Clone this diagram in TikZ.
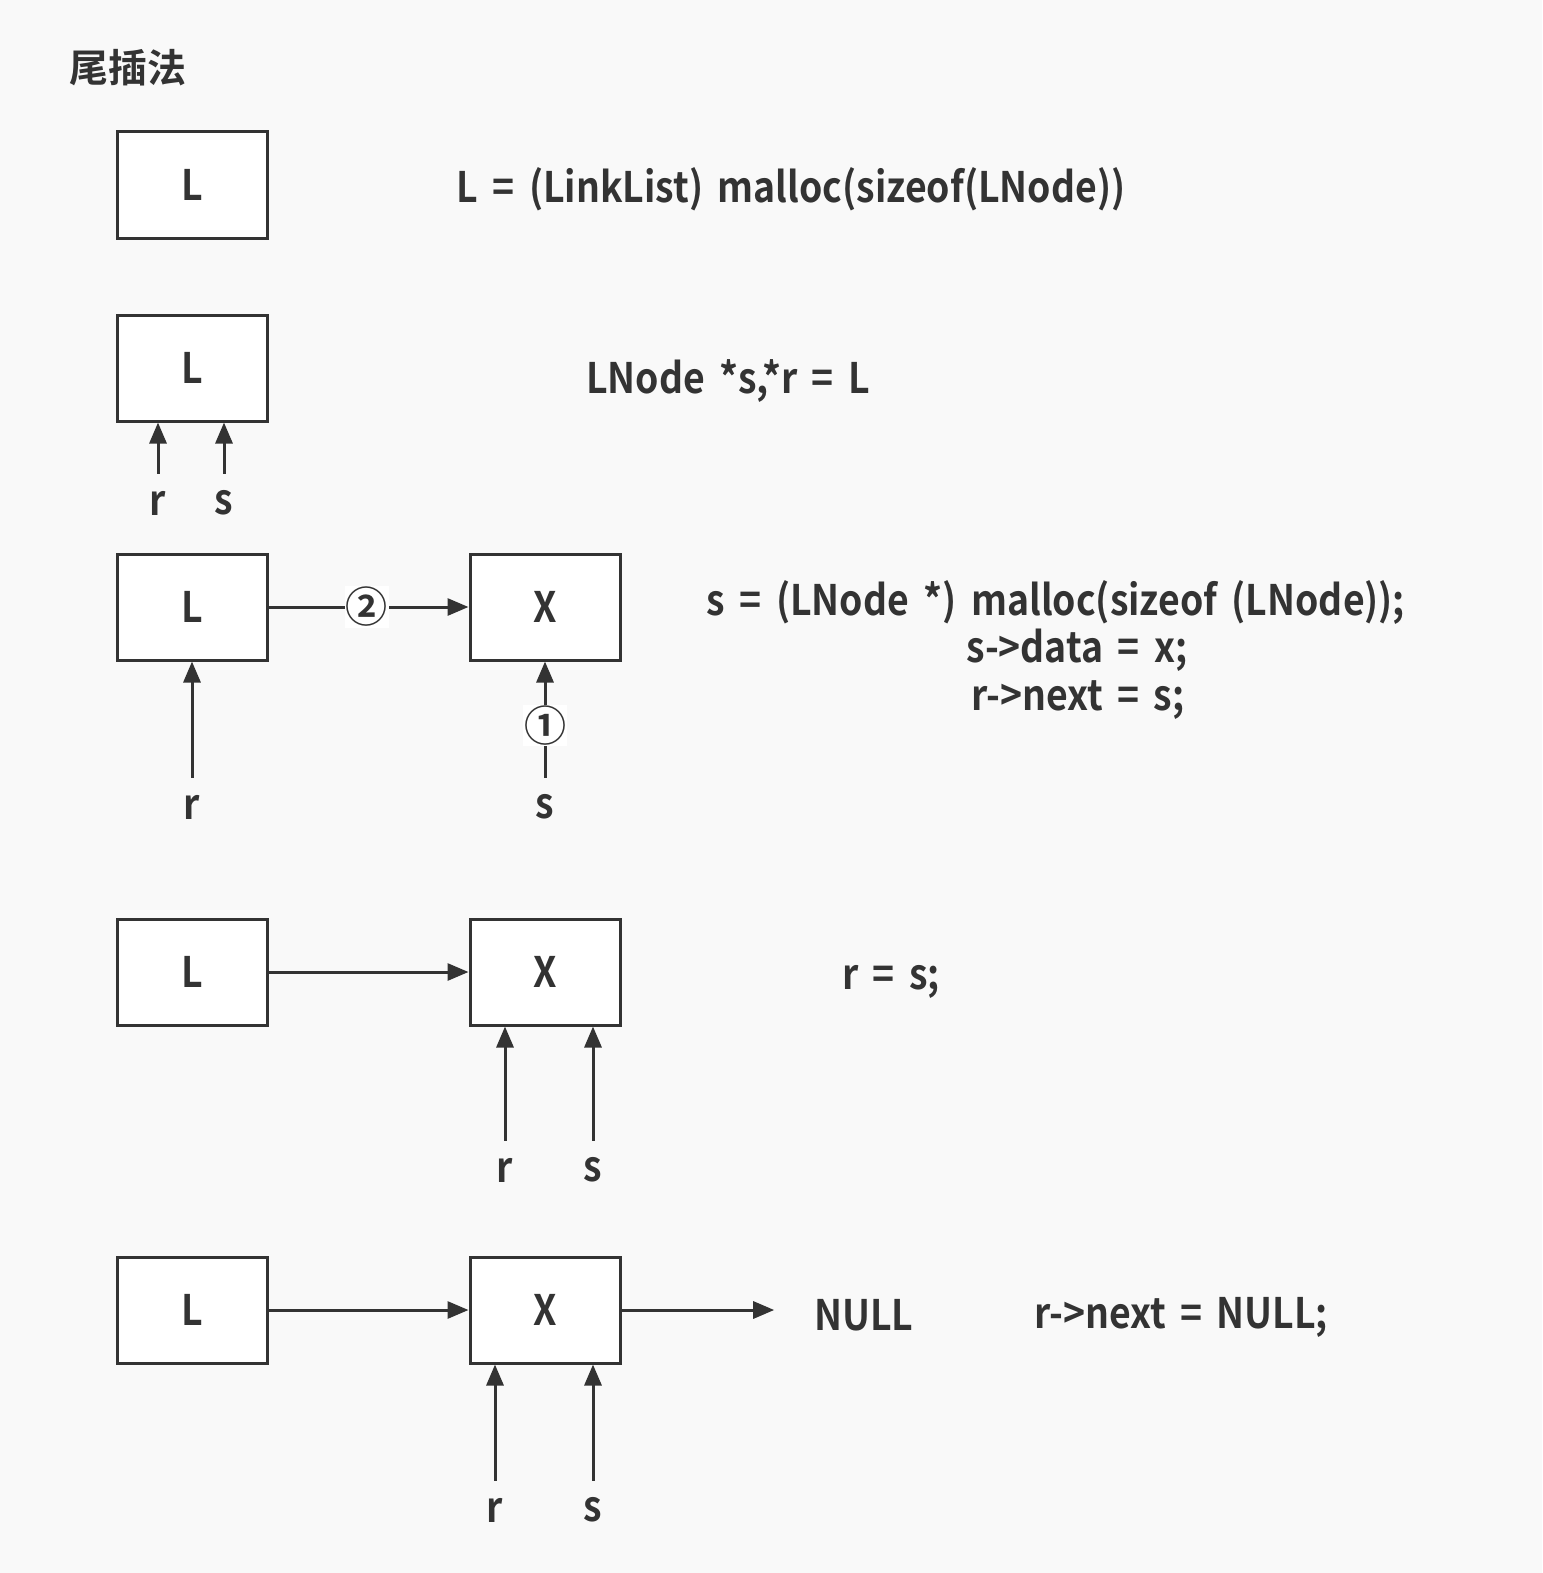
\documentclass[tikz,border=0pt]{standalone}
\usepackage{fontspec}
\setmainfont{Noto Sans CJK SC}[BoldFont={Noto Sans CJK SC Bold}]
\newfontfamily\codefont{Noto Sans CJK SC Bold}[FakeStretch=0.89, WordSpace=1.7]
\usetikzlibrary{arrows.meta}
\definecolor{ink}{HTML}{333333}
\definecolor{paper}{HTML}{F9F9F9}
\tikzset{
	cell/.style={draw=ink, fill=white, line width=3pt, minimum width=150pt, minimum height=106pt, inner sep=0pt, text=ink, font=\codefont\fontsize{42}{42}\selectfont},
	ptr/.style={draw=ink, line width=3pt, -{Triangle[length=21pt,width=17pt]}},
	code/.style={anchor=base, inner sep=0pt, text=ink, font=\codefont\fontsize{42}{42}\selectfont},
	lbl/.style={inner sep=0pt, outer sep=17pt, text=ink, font=\codefont\fontsize{42}{42}\selectfont},
	stepno/.style={fill=white, inner sep=1pt, text=ink, font=\bfseries\fontsize{42}{42}\selectfont}
}

\begin{document}
\begin{tikzpicture}[x=1pt, y=-1pt]
			%%%%% START %%%%%
			\fill[paper] (0, 0) rectangle (1542, 1573);
			\useasboundingbox (0, 0) rectangle (1542, 1573);
			
			\node[text=ink, font=\bfseries\fontsize{39}{39}\selectfont] (title) at (128, 68) {尾插法};
			
			% L = malloc
			\node[cell] (L1) at (192, 185) {L};
			\node[code] (code1) at (791, 203) {L = (LinkList) malloc(sizeof(LNode))};
			
			% r, s point at L
			\node[cell] (L2) at (192, 368) {L};
			\node[lbl] (r2) at (158, 503) {r};
			\node[lbl] (s2) at (224, 503) {s};
			\draw[ptr] (r2) -- (r2 |- L2.south);
			\draw[ptr] (s2) -- (s2 |- L2.south);
			\node[code] (code2) at (728, 393) {LNode *s,*r = L};
			
			% new node s, link it
			\node[cell] (L3) at (192, 607) {L};
			\node[cell] (X3) at (545, 607) {X};
			\node[lbl] (r3) at (192, 807) {r};
			\node[lbl] (s3) at (545, 807) {s};
			\draw[ptr] (r3) -- (L3);
			\draw[ptr] (s3) -- node[stepno, pos=0.45] (one) {①} (X3);
			\draw[ptr] (L3) -- node[stepno, pos=0.49] (two) {②} (X3);
			\node[code] (code3a) at (1056, 615) {s = (LNode *) malloc(sizeof (LNode));};
			\node[code] (code3b) at (1077, 662) {s->data = x;};
			\node[code] (code3c) at (1078, 710) {r->next = s;};
			
			% r moves to s
			\node[cell] (L4) at (192, 972) {L};
			\node[cell] (X4) at (545, 972) {X};
			\node[lbl] (r4) at (505, 1170) {r};
			\node[lbl] (s4) at (593, 1170) {s};
			\draw[ptr] (L4) -- (X4);
			\draw[ptr] (r4) -- (r4 |- X4.south);
			\draw[ptr] (s4) -- (s4 |- X4.south);
			\node[code] (code4) at (891, 989) {r = s;};
			
			% tail ends in NULL
			\node[cell] (L5) at (192, 1310) {L};
			\node[cell] (X5) at (545, 1310) {X};
			\node[lbl] (r5) at (495, 1510) {r};
			\node[lbl] (s5) at (593, 1510) {s};
			\node[code] (null5) at (864, 1330) {NULL};
			\draw[ptr] (L5) -- (X5);
			\draw[ptr] (X5) -- ([xshift=-40pt]null5.west |- X5);
			\draw[ptr] (r5) -- (r5 |- X5.south);
			\draw[ptr] (s5) -- (s5 |- X5.south);
			\node[code] (code5) at (1181, 1328) {r->next = NULL;};
			
			%%%%% END %%%%%
\end{tikzpicture}
\end{document}
